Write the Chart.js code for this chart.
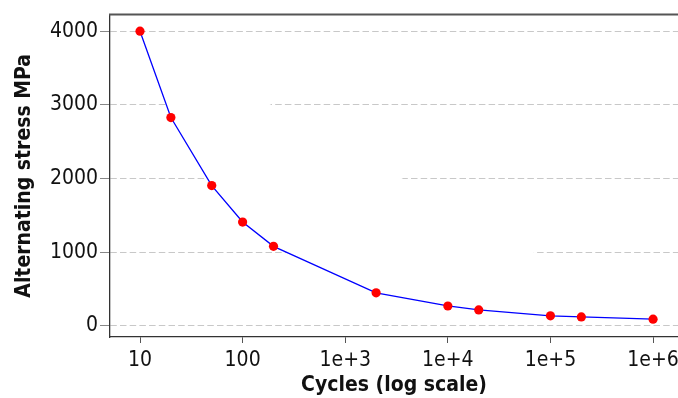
<!DOCTYPE html>
<html>
<head>
<meta charset="utf-8">
<script src="https://cdn.jsdelivr.net/npm/chart.js@4/dist/chart.umd.min.js"></script>
<style>
html,body{margin:0;padding:0;background:#fff;}
#wrap{width:678px;height:398px;position:relative;}
</style>
</head>
<body>
<div id="wrap"><canvas id="c" width="678" height="398"></canvas></div>
<script>
const cycles = [10, 20, 50, 100, 200, 2000, 10000, 20000, 100000, 200000, 1000000];
const stressMPa = [4000, 2828, 1905, 1410, 1080, 450, 271, 217, 138, 122, 92];
const xTickValues = [10, 100, 1000, 10000, 100000, 1000000];
const xTickLabels = ['10', '100', '1e+3', '1e+4', '1e+5', '1e+6'];
const yTickValues = [0, 1000, 2000, 3000, 4000];
const yTickLabels = ['0', '1000', '2000', '3000', '4000'];

const FONT = "'DejaVu Sans Condensed', 'DejaVu Sans', sans-serif";

const topBorder = {
  id: 'topBorder',
  afterDraw(chart) {
    const a = chart.chartArea, ctx = chart.ctx;
    ctx.save();
    ctx.strokeStyle = '#555555';
    ctx.lineWidth = 2;
    ctx.beginPath();
    ctx.moveTo(a.left - 1, a.top);
    ctx.lineTo(a.right, a.top);
    ctx.stroke();
    ctx.restore();
  }
};

new Chart(document.getElementById('c'), {
  type: 'line',
  data: {
    datasets: [{
      data: cycles.map((c, i) => ({x: c, y: stressMPa[i]})),
      borderColor: '#0000ff',
      borderWidth: 1.3,
      backgroundColor: '#ffffff',
      fill: 'shape',
      tension: 0,
      pointRadius: 4.6,
      pointBackgroundColor: '#ff0000',
      pointBorderWidth: 0,
      pointHoverRadius: 4.6
    }]
  },
  options: {
    responsive: false,
    animation: false,
    events: [],
    layout: {autoPadding: false, padding: {top: 14, right: 0, left: 0, bottom: 0}},
    plugins: {legend: {display: false}, tooltip: {enabled: false}},
    scales: {
      x: {
        type: 'logarithmic',
        min: 5.1,
        max: 1750000,
        afterBuildTicks(s) { s.ticks = xTickValues.map(v => ({value: v})); },
        afterFit(s) { s.height = 61; s.paddingRight = 0; s.paddingLeft = 0; },
        ticks: {
          autoSkip: false,
          maxRotation: 0,
          color: '#111',
          padding: 5,
          font: {family: FONT, size: 21},
          callback(v) { const i = xTickValues.indexOf(v); return i >= 0 ? xTickLabels[i] : ''; }
        },
        grid: {drawOnChartArea: false, drawTicks: true, tickLength: 6, tickColor: '#555', tickWidth: 1},
        border: {display: true, color: '#333', width: 1.3},
        title: {display: true, text: 'Cycles (log scale)', color: '#111', padding: {top: 0, bottom: 0},
          font: {family: FONT, size: 21, weight: 'bold'}}
      },
      y: {
        type: 'linear',
        min: -150,
        max: 4225,
        afterBuildTicks(s) { s.ticks = yTickValues.map(v => ({value: v})); },
        afterFit(s) { s.width = 110; },
        ticks: {
          color: '#111',
          padding: 2,
          font: {family: FONT, size: 21},
          callback(v) { const i = yTickValues.indexOf(v); return i >= 0 ? yTickLabels[i] : ''; }
        },
        grid: {color: '#c8c8c8', lineWidth: 1, drawTicks: true, tickLength: 10,
          tickColor: '#888', tickWidth: 1, tickBorderDash: []},
        border: {display: true, color: '#333', width: 1.3, dash: [6.5, 3.2]},
        title: {display: true, text: 'Alternating stress MPa', color: '#111', padding: {top: 12, bottom: 0},
          font: {family: FONT, size: 21, weight: 'bold'}}
      }
    }
  },
  plugins: [topBorder]
});
</script>
</body>
</html>
